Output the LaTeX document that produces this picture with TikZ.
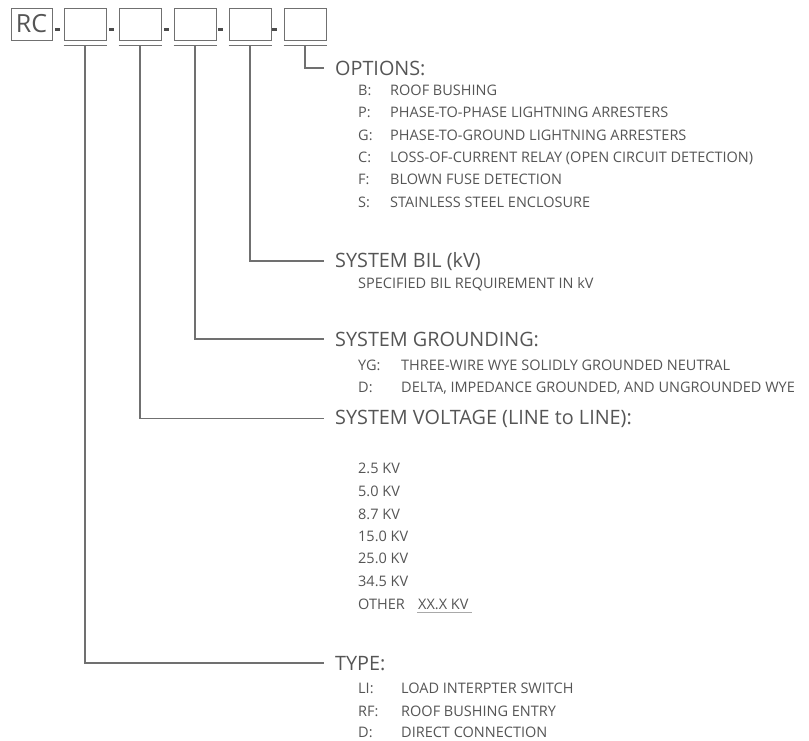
\documentclass[tikz,border=0pt]{standalone}
\usepackage{fontspec}
\setmainfont{Open Sans}
\usetikzlibrary{positioning}
\definecolor{ink}{HTML}{555555}
\definecolor{lgr}{HTML}{707070}

\begin{document}
\begin{tikzpicture}[x=1pt,y=-1pt,
   box/.style={draw=lgr,line width=1pt,minimum width=42pt,minimum height=32pt,inner sep=0pt},
   dsh/.style={fill=ink!90!black,minimum width=5pt,minimum height=3pt,inner sep=0pt},
   hd/.style={anchor=base west,inner sep=0pt,text=ink,font=\fontsize{19.8}{23}\selectfont},
   it/.style={anchor=base west,inner sep=0pt,text=ink,font=\fontsize{14.5}{17}\selectfont},
   conn/.style={draw=lgr,line width=1.2pt}]
  \useasboundingbox (0,0) rectangle (809,740);
  % code boxes
  \node[box,minimum width=41pt,text=ink,font=\fontsize{25}{28}\selectfont] (rc) at (31.5,24) {RC};
  \node[box,right=11pt of rc] (b1) {};
  \node[box,right=12pt of b1] (b2) {};
  \node[box,right=12pt of b2] (b3) {};
  \node[box,right=12pt of b3] (b4) {};
  \node[box,right=12pt of b4] (b5) {};
  \node[dsh] (d1) at (57.5,29.5) {};
  \node[dsh] (d2) at (111,29.5) {};
  \node[dsh] (d3) at (166,29.5) {};
  \node[dsh] (d4) at (220,29.5) {};
  \node[dsh] (d5) at (274,29.5) {};
  % headings
  \node[hd] (opt) at (335,75) {OPTIONS:};
  \node[hd] (bil) at (335,267) {SYSTEM BIL (kV)};
  \node[hd] (gnd) at (335,346) {SYSTEM GROUNDING:};
  \node[hd] (volt) at (335,424) {SYSTEM VOLTAGE (LINE to LINE):};
  \node[hd] (type) at (335,670) {TYPE:};
  % options
  \node[it] (ob) at (358,95.2) {B:};  \node[it] (obt) at (390,95.2) {ROOF BUSHING};
  \node[it] (op) at (358,117.6) {P:}; \node[it] (opt2) at (390,117.6) {PHASE-TO-PHASE LIGHTNING ARRESTERS};
  \node[it] (og) at (358,140) {G:}; \node[it] (ogt) at (390,140) {PHASE-TO-GROUND LIGHTNING ARRESTERS};
  \node[it] (oc) at (358,162.4) {C:}; \node[it] (oct) at (390,162.4) {LOSS-OF-CURRENT RELAY (OPEN CIRCUIT DETECTION)};
  \node[it] (of) at (358,184.8) {F:}; \node[it] (oft) at (390,184.8) {BLOWN FUSE DETECTION};
  \node[it] (os) at (358,207.2) {S:}; \node[it] (ost) at (390,207.2) {STAINLESS STEEL ENCLOSURE};
  % bil
  \node[it] (bilt) at (358,288.2) {SPECIFIED BIL REQUIREMENT IN kV};
  % grounding
  \node[it] (gyg) at (358,370.2) {YG:}; \node[it] (gygt) at (401,370.2) {THREE-WIRE WYE SOLIDLY GROUNDED NEUTRAL};
  \node[it] (gd) at (358,392.2) {D:};  \node[it] (gdt) at (401,392.2) {DELTA, IMPEDANCE GROUNDED, AND UNGROUNDED WYE};
  % voltage
  \node[it] (v1) at (358,473.2) {2.5 KV};
  \node[it] (v2) at (358,496.2) {5.0 KV};
  \node[it] (v3) at (358,519.2) {8.7 KV};
  \node[it] (v4) at (358,541.2) {15.0 KV};
  \node[it] (v5) at (358,563.2) {25.0 KV};
  \node[it] (v6) at (358,586.2) {34.5 KV};
  \node[it] (v7) at (358,609.2) {OTHER};
  \node[it] (vx) at (418,609.2) {XX.X KV};
  \draw[draw=lgr!60,line width=0.8pt] ([shift={(-1pt,-3pt)}]vx.base west) -- ([shift={(3pt,-3pt)}]vx.base east);
  % type
  \node[it] (tli) at (358,693.2) {LI:}; \node[it] (tlit) at (401,693.2) {LOAD INTERPTER SWITCH};
  \node[it] (trf) at (358,716.2) {RF:}; \node[it] (trft) at (401,716.2) {ROOF BUSHING ENTRY};
  \node[it] (td) at (358,737.5) {D:};  \node[it] (tdt) at (401,737.5) {DIRECT CONNECTION};
  % underlines and leaders
  \draw[conn] ([yshift=-5pt]b1.south west) -- ([yshift=-5pt]b1.south east);
  \draw[conn] ([yshift=-5pt]b2.south west) -- ([yshift=-5pt]b2.south east);
  \draw[conn] ([yshift=-5pt]b3.south west) -- ([yshift=-5pt]b3.south east);
  \draw[conn] ([yshift=-5pt]b4.south west) -- ([yshift=-5pt]b4.south east);
  \draw[conn] ([yshift=-5pt]b5.south west) -- ([yshift=-5pt]b5.south east);
  \draw[conn] ([yshift=-5pt]b5.south) |- ([xshift=-11pt]opt.west);
  \draw[conn] ([yshift=-5pt]b4.south) |- ([xshift=-11pt]bil.west);
  \draw[conn] ([yshift=-5pt]b3.south) |- ([xshift=-11pt]gnd.west);
  \draw[conn] ([yshift=-5pt]b2.south) |- ([xshift=-11pt]volt.west);
  \draw[conn] ([yshift=-5pt]b1.south) |- ([xshift=-11pt]type.west);
\end{tikzpicture}
\end{document}
